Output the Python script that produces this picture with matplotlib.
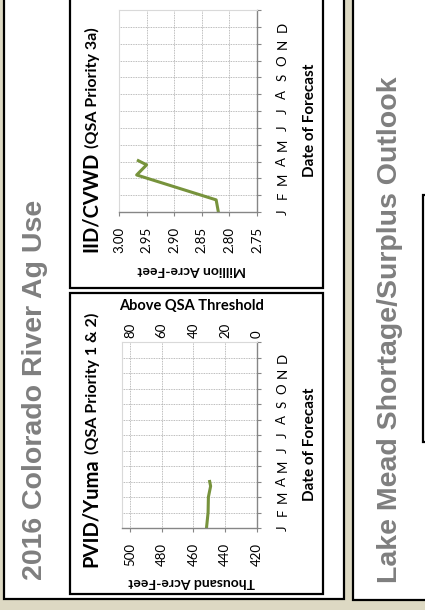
import matplotlib
matplotlib.use("Agg")
import matplotlib.pyplot as plt
from matplotlib.patches import Rectangle

# ---------------------------------------------------------------- data
months = ["J", "F", "M", "A", "M", "J", "J", "A", "S", "O", "N", "D"]

# IID/CVWD forecast use (million acre-feet); time in months since Jan 1
iid_time = [0.0, 0.72, 2.2, 2.8, 3.05]
iid_use = [2.820, 2.824, 2.968, 2.950, 2.965]
iid_ticks = [3.00, 2.95, 2.90, 2.85, 2.80, 2.75]

# PVID/Yuma forecast use (thousand acre-feet)
pvid_time = [0.0, 1.0, 2.0, 2.7, 3.0]
pvid_use = [451.8, 450.8, 450.6, 449.2, 449.8]
pvid_ticks = [500, 480, 460, 440, 420]
qsa_threshold = 420
above_ticks = [80, 60, 40, 20, 0]

# ---------------------------------------------------------------- layout
W, H, DPI = 425, 610, 100
BEIGE = "#DDD9C3"
GREEN = "#77933C"
GRAY_TITLE = "#7F7F7F"
AXIS_GRAY = "#868686"
BORDER_GRAY = "#D9D9D9"
GRID_GRAY = "#A6A6A6"
FONT = ["Lato", "DejaVu Sans"]
TITLE_FONT = ["Liberation Sans", "DejaVu Sans"]

fig = plt.figure(figsize=(W / DPI, H / DPI), dpi=DPI)
fig.patch.set_facecolor(BEIGE)


def box(x0, y0, x1, y1, lw=1.6):
    fig.add_artist(Rectangle((x0 / W, 1 - y1 / H), (x1 - x0) / W, (y1 - y0) / H,
                             transform=fig.transFigure, facecolor="white",
                             edgecolor="black", linewidth=lw, zorder=-5))


def text(x, y, s, **kw):
    return fig.text(x / W, 1 - y / H, s, **kw)


def axes_at(x0, y0, x1, y1):
    return fig.add_axes([x0 / W, 1 - y1 / H, (x1 - x0) / W, (y1 - y0) / H])


def chart_title(x, y, main, sub, gap=4):
    """Vertical bold title followed by a smaller parenthetical subtitle."""
    t = text(x, y, main, rotation=90, rotation_mode="anchor", ha="left",
             va="baseline", fontsize=14.5, fontweight="bold", family=FONT)
    fig.canvas.draw()
    end = H - t.get_window_extent().y1
    text(x, end - gap, sub, rotation=90, rotation_mode="anchor", ha="left",
         va="baseline", fontsize=11.5, fontweight="bold", family=FONT)


# panels and chart frames
box(4, -10, 344, 599)
box(353, -10, 450, 600)
box(423, 195, 480, 442)
box(70, -10, 323, 288)
box(70, 293, 323, 594)


def style(ax, xlim, xticks, xlabels):
    ax.set_facecolor("white")
    ax.set_xlim(*xlim)
    ax.set_ylim(0, 12)
    ax.set_xticks(xticks)
    ax.set_xticklabels(xlabels, rotation=90, fontsize=9.5, family=FONT,
                       va="top", ha="center")
    ax.set_yticks(range(13))
    ax.set_yticklabels(months + [""], rotation=90, fontsize=9.5, family=FONT,
                       ha="left", va="center")
    ax.yaxis.tick_right()
    ax.grid(True, color=GRID_GRAY, lw=0.6, ls=(0, (1, 1)))
    ax.set_axisbelow(True)
    for side in ("bottom", "right"):
        ax.spines[side].set_color(AXIS_GRAY)
        ax.spines[side].set_linewidth(1.0)
    for side in ("top", "left"):
        ax.spines[side].set_color(BORDER_GRAY)
        ax.spines[side].set_linewidth(0.8)
    ax.tick_params(axis="x", direction="out", length=3, color=AXIS_GRAY,
                   pad=7.5, labelcolor="black")
    ax.tick_params(axis="y", direction="out", length=3, color=AXIS_GRAY,
                   pad=11, labelcolor="black", left=False, right=True)


# ---------------------------------------------------------------- IID/CVWD
ax1 = axes_at(119, 10, 257, 212)
style(ax1, (3.00, 2.75), iid_ticks, [f"{v:.2f}" for v in iid_ticks])
ax1.plot(iid_use, iid_time, color=GREEN, lw=2.2, solid_joinstyle="round")

chart_title(97, 252, "IID/CVWD", "(QSA Priority 3a)")
text(192, 270, "Million Acre-Feet", rotation=180, ha="center", va="center",
     fontsize=10, fontweight="bold", family=FONT)
text(310, 120, "Date of Forecast", rotation=90, ha="center", va="center",
     fontsize=11, fontweight="bold", family=FONT)

# ---------------------------------------------------------------- PVID/Yuma
ax2 = axes_at(122, 342, 257, 528)
style(ax2, (505, 420), pvid_ticks, [str(v) for v in pvid_ticks])
ax2.plot(pvid_use, pvid_time, color=GREEN, lw=2.2, solid_joinstyle="round")

sec = ax2.secondary_xaxis("top", functions=(lambda v: v - qsa_threshold,
                                            lambda v: v + qsa_threshold))
sec.set_xticks(above_ticks)
sec.set_xticklabels([str(v) for v in above_ticks], rotation=90, fontsize=9.5,
                    family=FONT, va="bottom", ha="center")
sec.tick_params(axis="x", length=0, pad=3)
sec.spines["top"].set_visible(False)

chart_title(97, 567, "PVID/Yuma", "(QSA Priority 1 & 2)")
text(192, 582, "Thousand Acre-Feet", rotation=180, ha="center", va="center",
     fontsize=10, fontweight="bold", family=FONT)
text(192, 306, "Above QSA Threshold", ha="center", va="center",
     fontsize=10.5, fontweight="bold", family=FONT)
text(310, 444, "Date of Forecast", rotation=90, ha="center", va="center",
     fontsize=11, fontweight="bold", family=FONT)

# ---------------------------------------------------------------- section titles
text(42, 580, "2016 Colorado River Ag Use", rotation=90, rotation_mode="anchor",
     ha="left", va="baseline", fontsize=20.5, fontweight="bold",
     family=TITLE_FONT, color=GRAY_TITLE)
text(397, 583, "Lake Mead Shortage/Surplus Outlook", rotation=90,
     rotation_mode="anchor", ha="left", va="baseline", fontsize=20.5,
     fontweight="bold", family=TITLE_FONT, color=GRAY_TITLE)

fig.savefig("out.png", dpi=DPI, facecolor=BEIGE)
